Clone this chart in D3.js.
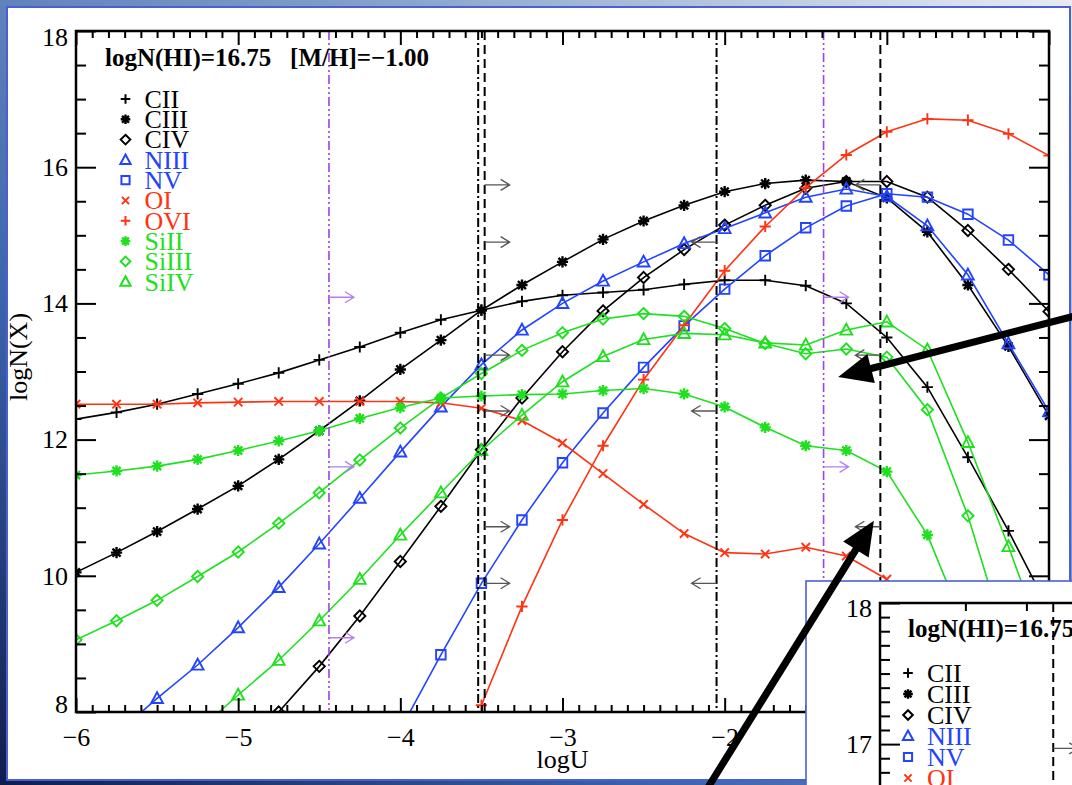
<!DOCTYPE html>
<html>
<head>
<meta charset="utf-8">
<script src="https://cdn.jsdelivr.net/npm/d3@7"></script>
<style>
  html, body { margin: 0; padding: 0; background: #fff; }
  svg { display: block; font-family: "Liberation Serif", "Times New Roman", serif; }
</style>
</head>
<body>
<svg id="chart" width="1072" height="785"></svg>
<script>
// ---- photoionisation grid: column densities vs ionisation parameter ----
const logU = [-6, -5.75, -5.5, -5.25, -5, -4.75, -4.5, -4.25, -4, -3.75, -3.5, -3.25,
              -3, -2.75, -2.5, -2.25, -2, -1.75, -1.5, -1.25, -1, -0.75, -0.5, -0.25, 0];

const CII   = [12.30, 12.40, 12.52, 12.67, 12.82, 12.98, 13.17, 13.36, 13.57, 13.76, 13.90, 14.03,
               14.12, 14.16, 14.20, 14.28, 14.34, 14.34, 14.26, 14.00, 13.50, 12.77, 11.74, 10.66, 9.50];
const CIII  = [10.05, 10.34, 10.65, 10.98, 11.32, 11.71, 12.13, 12.57, 13.03, 13.46, 13.90, 14.27,
               14.61, 14.94, 15.21, 15.44, 15.64, 15.76, 15.81, 15.79, 15.55, 15.05, 14.27, 13.37, 12.35];
const CIV   = [null, null, null, null, null, 8.00, 8.67, 9.41, 10.21, 11.02, 11.85, 12.61,
               13.29, 13.89, 14.38, 14.79, 15.15, 15.44, 15.69, 15.79, 15.79, 15.56, 15.07, 14.50, 13.88];
const NIII  = [null, 7.68, 8.20, 8.69, 9.24, 9.83, 10.47, 11.14, 11.82, 12.48, 13.10, 13.61,
               14.00, 14.33, 14.61, 14.88, 15.10, 15.33, 15.56, 15.68, 15.57, 15.14, 14.42, 13.41, 12.41];
const NV    = [null, null, null, null, null, null, null, null, 7.74, 8.84, 9.89, 10.82,
               11.66, 12.39, 13.06, 13.67, 14.21, 14.70, 15.11, 15.43, 15.61, 15.56, 15.31, 14.93, 14.42];
const OI    = [12.52, 12.52, 12.52, 12.54, 12.55, 12.56, 12.56, 12.56, 12.56, 12.54, 12.46, 12.28,
               11.95, 11.50, 11.05, 10.62, 10.34, 10.32, 10.42, 10.29, 9.95, null, null, null, null];
const OVI   = [null, null, null, null, null, null, null, null, null, null, 8.10, 9.55,
               10.82, 11.91, 12.88, 13.68, 14.48, 15.13, 15.70, 16.18, 16.52, 16.71, 16.69, 16.49, 16.17];
const SiII  = [11.48, 11.54, 11.61, 11.71, 11.84, 11.98, 12.13, 12.31, 12.47, 12.61, 12.64, 12.66,
               12.67, 12.72, 12.75, 12.67, 12.48, 12.18, 11.91, 11.84, 11.53, 10.60, 9.15, null, null];
const SiIII = [9.06, 9.34, 9.64, 9.99, 10.35, 10.77, 11.22, 11.70, 12.17, 12.61, 12.97, 13.31,
               13.57, 13.77, 13.85, 13.81, 13.63, 13.41, 13.26, 13.33, 13.21, 12.44, 10.88, 8.93, null];
const SiIV  = [null, null, null, 7.72, 8.25, 8.76, 9.34, 9.95, 10.60, 11.22, 11.84, 12.36,
               12.85, 13.22, 13.47, 13.56, 13.54, 13.42, 13.39, 13.61, 13.73, 13.32, 11.96, 10.43, 8.80];

const ionNames = ["CII", "CIII", "CIV", "NIII", "NV", "OI", "OVI", "SiII", "SiIII", "SiIV"];
const ionValues = [CII, CIII, CIV, NIII, NV, OI, OVI, SiII, SiIII, SiIV];

// axis ticks
const xMajorTicks = [-6, -5, -4, -3, -2, -1, 0];
const yMajorTicks = [8, 10, 12, 14, 16, 18];
const panelTitle = "logN(HI)=16.75   [M/H]=\u22121.00";
const xTitle = "logU";
const yTitle = "logN(X)";

// allowed logU ranges from observed ions
const dashDotLimits = [-3.52, -2.05];
const dashedLimits  = [-3.48, -1.04];
const purpleLimits  = [-4.44, -1.39];

// limit arrows: [logU at the line, logN, direction]
const grayArrows = [
  [-3.48, 15.74, 1], [-3.48, 14.90, 1], [-3.48, 13.24, 1], [-3.48, 12.42, 1], [-3.48, 10.72, 1], [-3.48, 9.89, 1],
  [-2.05, 14.90, -1], [-2.05, 12.42, -1], [-2.05, 9.89, -1],
  [-1.04, 15.74, -1], [-1.04, 13.24, -1], [-1.04, 10.72, -1]
];
const purpleArrows = [
  [-4.44, 14.09, 1], [-4.44, 11.60, 1], [-4.44, 9.09, 1],
  [-1.39, 14.09, 1], [-1.39, 11.60, 1], [-1.39, 9.09, 1]
];

// second (upper) panel, partly visible
const insetTitle = "logN(HI)=16.75";
const insetYTicks = [17, 18];
const insetXTicks = [-4, -3.75];
const insetDashed = [-3.64];
const insetArrows = [[-3.64, 16.97, 1]];

// callout arrows in (logU, logN) of the main panel: tail -> tip
const callouts = [
  [[0.20, 13.84], [-1.30, 12.92]],
  [[-2.14, 6.75], [-1.08, 10.81]]
];

// ---- styles ----
const BLACK = "#000000", BLUE = "#2244ff", RED = "#ff3311", GREEN = "#1ee01e";
const ionStyle = {
  CII:   { color: BLACK, sym: "plus" },
  CIII:  { color: BLACK, sym: "star" },
  CIV:   { color: BLACK, sym: "diamond" },
  NIII:  { color: BLUE,  sym: "triangle" },
  NV:    { color: BLUE,  sym: "square" },
  OI:    { color: RED,   sym: "cross" },
  OVI:   { color: RED,   sym: "plus" },
  SiII:  { color: GREEN, sym: "star" },
  SiIII: { color: GREEN, sym: "diamond" },
  SiIV:  { color: GREEN, sym: "triangle" }
};
const FONT = 26;
const TITLE_FONT = 25;

function symPath(type, r) {
  switch (type) {
    case "plus": return `M${-r},0H${r}M0,${-r}V${r}`;
    case "star": { const d = r * 0.72; return `M${-r},0H${r}M0,${-r}V${r}M${-d},${-d}L${d},${d}M${-d},${d}L${d},${-d}`; }
    case "diamond": return `M0,${-r}L${r},0L0,${r}L${-r},0Z`;
    case "triangle": return `M0,${-r}L${r * 0.95},${r * 0.75}L${-r * 0.95},${r * 0.75}Z`;
    case "square": { const s = r * 0.85; return `M${-s},${-s}H${s}V${s}H${-s}Z`; }
    case "cross": { const c = r * 0.75; return `M${-c},${-c}L${c},${c}M${-c},${c}L${c},${-c}`; }
  }
}

const svg = d3.select("#chart");
const defs = svg.append("defs");

// slide backdrop
const grad = defs.append("linearGradient").attr("id", "slideBg")
  .attr("x1", 0).attr("y1", 1).attr("x2", 1).attr("y2", 0);
[[0, "#0f1d4d"], [0.3, "#3a62aa"], [0.65, "#7d9cc8"], [1, "#e8ecf1"]]
  .forEach(([o, c]) => grad.append("stop").attr("offset", o).attr("stop-color", c));
svg.append("rect").attr("width", 1072).attr("height", 785).attr("fill", "url(#slideBg)");
svg.append("rect").attr("x", 7).attr("y", 7).attr("width", 1063).attr("height", 773)
  .attr("fill", "#fff").attr("stroke", "#4b5ed6").attr("stroke-width", 2);

// ---- main panel ----
const x = d3.scaleLinear().domain([-6, 0]).range([76, 1049]);
const y = d3.scaleLinear().domain([8, 18]).range([712, 31]);
const [X0, X1] = x.range(), [Y0, Y1] = y.range();

defs.append("clipPath").attr("id", "plotClip").append("rect")
  .attr("x", X0).attr("y", Y1).attr("width", X1 - X0).attr("height", Y0 - Y1);

const main = svg.append("g");

function drawAxes(g, xs, ys, opt) {
  const xMinor = d3.range(Math.round(xs.domain()[0] * 10), Math.round(xs.domain()[1] * 10) + 1)
    .filter(i => i % 10 !== 0).map(i => i / 10);
  const yMinor = opt.yMinor;
  const axes = [
    [d3.axisBottom(xs).tickValues(opt.xMajor).tickSize(-opt.xMaj).tickPadding(16).tickFormat(d3.format("d")), `translate(0,${ys.range()[0]})`],
    [d3.axisBottom(xs).tickValues(xMinor).tickSize(-opt.xMin).tickFormat(""), `translate(0,${ys.range()[0]})`],
    [d3.axisTop(xs).tickValues(opt.xMajor).tickSize(-opt.xMaj).tickFormat(""), `translate(0,${ys.range()[1]})`],
    [d3.axisTop(xs).tickValues(xMinor).tickSize(-opt.xMin).tickFormat(""), `translate(0,${ys.range()[1]})`],
    [d3.axisLeft(ys).tickValues(opt.yMajor).tickSize(-opt.yMaj).tickPadding(8).tickFormat(d3.format("d")), `translate(${xs.range()[0]},0)`],
    [d3.axisLeft(ys).tickValues(yMinor).tickSize(-opt.yMin).tickFormat(""), `translate(${xs.range()[0]},0)`],
    [d3.axisRight(ys).tickValues(opt.yMajor).tickSize(-opt.yMaj).tickFormat(""), `translate(${xs.range()[1]},0)`],
    [d3.axisRight(ys).tickValues(yMinor).tickSize(-opt.yMin).tickFormat(""), `translate(${xs.range()[1]},0)`]
  ];
  axes.forEach(([ax, tr]) => {
    const a = g.append("g").attr("transform", tr).call(ax.tickSizeOuter(0));
    a.select(".domain").remove();
    a.selectAll(".tick line").attr("stroke", "#000").attr("stroke-width", 2);
    a.selectAll("text").attr("font-size", FONT).attr("fill", "#000")
      .attr("font-family", "Liberation Serif, serif");
  });
  g.append("rect").attr("x", xs.range()[0]).attr("y", ys.range()[1])
    .attr("width", xs.range()[1] - xs.range()[0]).attr("height", ys.range()[0] - ys.range()[1])
    .attr("fill", "none").attr("stroke", "#000").attr("stroke-width", 2.5);
}

function drawSeries(g, xs, ys, clipId) {
  const lay = g.append("g").attr("clip-path", `url(#${clipId})`);
  ionNames.forEach((name, k) => {
    const st = ionStyle[name];
    const pts = logU.map((u, i) => ({ u, v: ionValues[k][i] })).filter(d => d.v != null);
    lay.append("path").datum(pts)
      .attr("d", d3.line().x(d => xs(d.u)).y(d => ys(d.v)))
      .attr("fill", "none").attr("stroke", st.color).attr("stroke-width", 1.6);
    lay.selectAll(null).data(pts).enter().append("path")
      .attr("transform", d => `translate(${xs(d.u)},${ys(d.v)})`)
      .attr("d", symPath(st.sym, st.sym === "triangle" ? 6.2 : 5.6))
      .attr("fill", "none").attr("stroke", st.color)
      .attr("stroke-width", st.sym === "star" ? 2.4 : 1.9);
  });
  return lay;
}

function drawLegend(g, x0, y0, dy) {
  ionNames.forEach((name, i) => {
    const st = ionStyle[name];
    const cy = y0 + i * dy;
    g.append("path").attr("transform", `translate(${x0},${cy})`)
      .attr("d", symPath(st.sym, st.sym === "triangle" ? 5.4 : 4.8))
      .attr("fill", "none").attr("stroke", st.color).attr("stroke-width", st.sym === "star" ? 2.4 : 2);
    g.append("text").attr("x", x0 + 19).attr("y", cy + 8.8)
      .attr("font-size", FONT).attr("fill", st.color).text(name);
  });
}

function limitArrow(g, px, py, dir, len, color) {
  const xe = px + dir * len;
  g.append("path")
    .attr("d", `M${px},${py}H${xe}M${xe - dir * 9},${py - 5.5}L${xe},${py}L${xe - dir * 9},${py + 5.5}`)
    .attr("fill", "none").attr("stroke", color).attr("stroke-width", 1.3);
}

drawSeries(main, x, y, "plotClip");

// vertical limit lines
const vl = main.append("g").attr("clip-path", "url(#plotClip)");
dashDotLimits.forEach(u => vl.append("line").attr("x1", x(u)).attr("x2", x(u)).attr("y1", Y1).attr("y2", Y0)
  .attr("stroke", "#000").attr("stroke-width", 2).attr("stroke-dasharray", "9,3,2,3"));
dashedLimits.forEach(u => vl.append("line").attr("x1", x(u)).attr("x2", x(u)).attr("y1", Y1).attr("y2", Y0)
  .attr("stroke", "#000").attr("stroke-width", 2).attr("stroke-dasharray", "9,5"));
purpleLimits.forEach(u => vl.append("line").attr("x1", x(u)).attr("x2", x(u)).attr("y1", Y1).attr("y2", Y0)
  .attr("stroke", "#a040e6").attr("stroke-width", 1.6).attr("stroke-dasharray", "9,3,2,3,2,3"));
grayArrows.forEach(([u, v, d]) => limitArrow(vl, x(u), y(v), d, 25, "#555"));
purpleArrows.forEach(([u, v, d]) => limitArrow(vl, x(u), y(v), d, 25, "#b47ef0"));

drawAxes(main, x, y, { xMajor: xMajorTicks, yMajor: yMajorTicks, yMinor: d3.range(8, 18.01, 0.5).filter(v => v % 2 !== 0),
  xMaj: 14, xMin: 7, yMaj: 20, yMin: 10 });

// end labels sit inside the frame
main.selectAll("text").filter(function () { return this.textContent === "18"; }).attr("dy", "0.57em");
main.selectAll("text").filter(function () { return this.textContent === "8"; }).attr("dy", "0.02em");

main.append("text").attr("x", 105).attr("y", 66).attr("font-size", TITLE_FONT).attr("font-weight", "bold")
  .attr("xml:space", "preserve").style("white-space", "pre").text(panelTitle);
drawLegend(main, 125.5, 99, 20.3);

main.append("text").attr("x", (X0 + X1) / 2).attr("y", 768).attr("text-anchor", "middle")
  .attr("font-size", FONT).text(xTitle);
main.append("text").attr("transform", `translate(27,357) rotate(-90)`).attr("text-anchor", "middle")
  .attr("font-size", FONT).text(yTitle);

// ---- second panel (cropped at the page edge) ----
const inset = svg.append("g");
inset.append("rect").attr("x", 806).attr("y", 581).attr("width", 300).attr("height", 240)
  .attr("fill", "#fff").attr("stroke", "#4b5ed6").attr("stroke-width", 1.6);
defs.append("clipPath").attr("id", "insetBox").append("rect")
  .attr("x", 807).attr("y", 582).attr("width", 270).attr("height", 210);
const ig = inset.append("g").attr("clip-path", "url(#insetBox)");
const ix = d3.scaleLinear().domain([-4.35, -3.1]).range([880, 1185]);
const iy = d3.scaleLinear().domain([16.2, 18]).range([857, 603]);
defs.append("clipPath").attr("id", "insetPlot").append("rect")
  .attr("x", 880).attr("y", 603).attr("width", 305).attr("height", 254);

const ia = ig.append("g");
[[d3.axisLeft(iy).tickValues(insetYTicks).tickSize(-20).tickPadding(8).tickFormat(d3.format("d")), "translate(880,0)"],
 [d3.axisLeft(iy).tickValues(d3.range(162, 181).filter(i => i % 10 !== 0).map(i => i / 10)).tickSize(-10).tickFormat(""), "translate(880,0)"],
 [d3.axisTop(ix).tickValues(insetXTicks).tickSize(-8).tickFormat(""), "translate(0,603)"]
].forEach(([ax, tr]) => {
  const a = ia.append("g").attr("transform", tr).call(ax.tickSizeOuter(0));
  a.select(".domain").remove();
  a.selectAll(".tick line").attr("stroke", "#000").attr("stroke-width", 2);
  a.selectAll("text").attr("font-size", FONT).attr("fill", "#000").attr("font-family", "Liberation Serif, serif");
});
ia.selectAll("text").filter(function () { return this.textContent === "18"; }).attr("dy", "0.5em");
ig.append("path").attr("d", `M880,${iy.range()[0]}V603H${ix.range()[1]}`)
  .attr("fill", "none").attr("stroke", "#000").attr("stroke-width", 2.5);
const il = ig.append("g").attr("clip-path", "url(#insetPlot)");
insetDashed.forEach(u => il.append("line").attr("x1", ix(u)).attr("x2", ix(u)).attr("y1", 603).attr("y2", iy.range()[0])
  .attr("stroke", "#000").attr("stroke-width", 2).attr("stroke-dasharray", "9,5"));
insetArrows.forEach(([u, v, d]) => limitArrow(il, ix(u), iy(v), d, 25, "#555"));
ig.append("text").attr("x", 908).attr("y", 637).attr("font-size", TITLE_FONT).attr("font-weight", "bold").text(insetTitle);
drawLegend(ig, 908, 673, 21);

// ---- callout arrows ----
callouts.forEach(([tail, tip]) => {
  const tx = x(tail[0]), ty = y(tail[1]), hx = x(tip[0]), hy = y(tip[1]);
  const L = Math.hypot(hx - tx, hy - ty), ux = (hx - tx) / L, uy = (hy - ty) / L;
  const nx = -uy, ny = ux, head = 34, hw = 15, sw = 3.6;
  const bx = hx - ux * head, by = hy - uy * head;
  const pts = [
    [tx + nx * sw, ty + ny * sw], [bx + nx * sw, by + ny * sw], [bx + nx * hw, by + ny * hw],
    [hx, hy], [bx - nx * hw, by - ny * hw], [bx - nx * sw, by - ny * sw], [tx - nx * sw, ty - ny * sw]
  ];
  svg.append("path").attr("d", "M" + pts.map(p => p.join(",")).join("L") + "Z").attr("fill", "#000");
});
</script>
</body>
</html>
